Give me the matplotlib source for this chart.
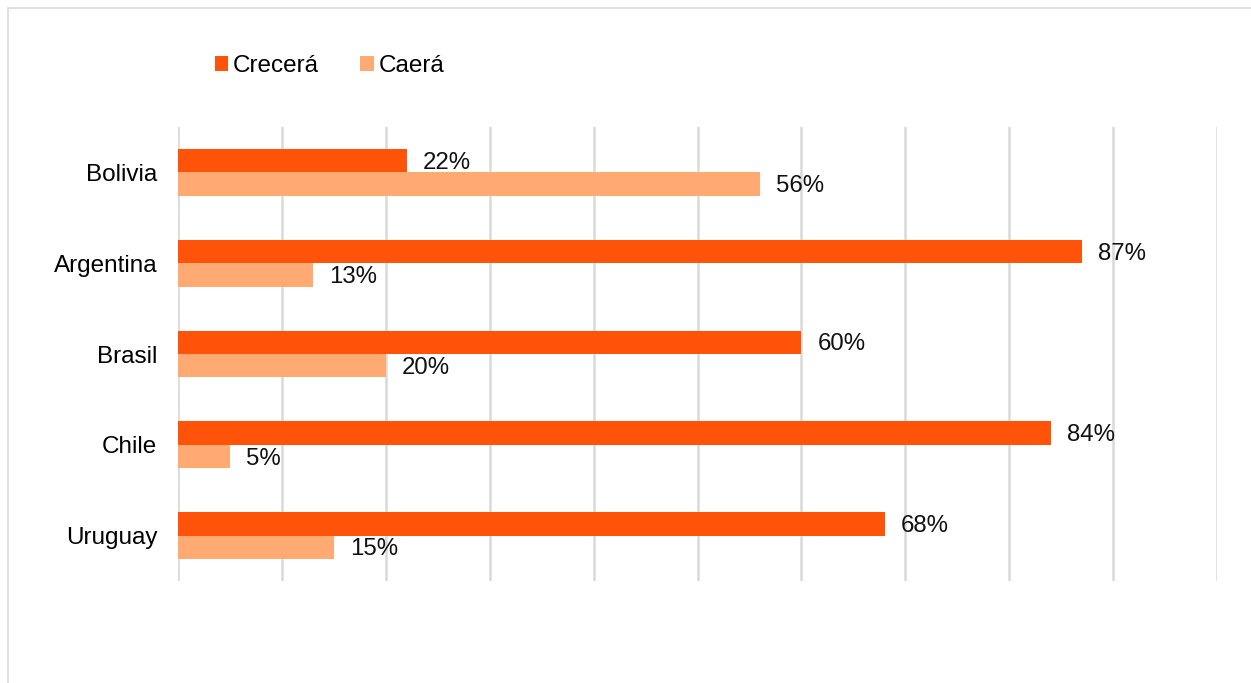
import matplotlib
matplotlib.use('Agg')
import matplotlib.pyplot as plt
from matplotlib.patches import Rectangle
import numpy as np

paises = ['Bolivia', 'Argentina', 'Brasil', 'Chile', 'Uruguay']
crecera = [22, 87, 60, 84, 68]
caera = [56, 13, 20, 5, 15]
col_crece = '#FF530A'
col_cae = '#FFAA73'

plt.rcParams['font.family'] = ['Liberation Sans', 'DejaVu Sans']

fig = plt.figure(figsize=(12.51, 6.83), dpi=100)
fig.patches.append(Rectangle((8/1251, -0.1), 1.2, 1 - 8/683 + 0.1,
                             transform=fig.transFigure, fill=False,
                             edgecolor='#D9D9D9', linewidth=1.2))
ax = fig.add_axes([178/1251, 1 - 581/683, (1217 - 178)/1251, (581 - 127)/683])

y = np.arange(len(paises))
h = 0.258
b1 = ax.barh(y - h/2, crecera, height=h, color=col_crece, label='Crecerá', zorder=3)
b2 = ax.barh(y + h/2, caera, height=h, color=col_cae, label='Caerá', zorder=3)
for bars, vals in ((b1, crecera), (b2, caera)):
    for bar, v in zip(bars, vals):
        ax.annotate(f'{v}%', (v, bar.get_y() + bar.get_height()/2),
                    xytext=(11.5, -1.5), textcoords='offset points',
                    va='center', ha='left', fontsize=17.3, color='#111111')

ax.set_xlim(0, 100)
ax.set_ylim(len(paises) - 0.5, -0.5)
ax.set_xticks(np.arange(0, 101, 10))
ax.set_xticklabels([])
ax.set_yticks(y)
ax.set_yticklabels(paises, fontsize=17.5)
ax.tick_params(axis='both', length=0)
ax.tick_params(axis='y', pad=15)
ax.grid(axis='x', color='#D9D9D9', linewidth=1.8, zorder=0)
for s in ax.spines.values():
    s.set_visible(False)

fig.legend(handles=[b1, b2], loc='center left', bbox_to_anchor=(193/1251, 1 - 66/683),
           ncol=2, frameon=False, fontsize=17.5, handlelength=0.55, handleheight=0.55,
           handletextpad=0.2, columnspacing=1.7)

fig.savefig('out.png', dpi=100, facecolor='white')
